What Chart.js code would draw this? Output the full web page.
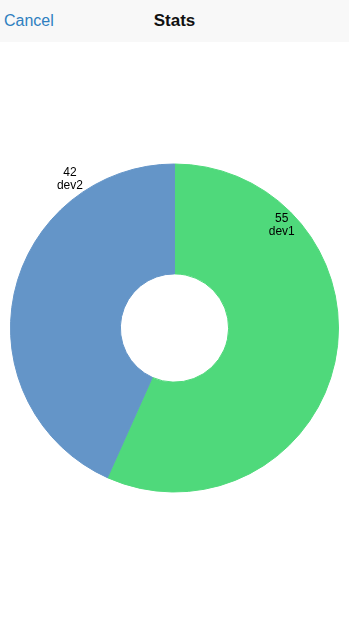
<!DOCTYPE html>
<html>
<head>
<meta charset="utf-8">
<script src="https://cdn.jsdelivr.net/npm/chart.js@4.4.0/dist/chart.umd.min.js"></script>
<style>
  html, body { margin: 0; padding: 0; background: #fff; width: 349px; height: 620px; overflow: hidden; }
  #bar {
    position: relative; height: 42px; background: #f8f8f8;
    font-family: "Liberation Sans", Arial, sans-serif;
  }
  #cancel { position: absolute; left: 4px; top: 12px; font-size: 16px; color: #2f7fc0; }
  #title { position: absolute; left: 0; right: 0; top: 11px; text-align: center; font-size: 17px; font-weight: bold; color: #111; }
  #wrap { position: relative; width: 349px; height: 578px; }
</style>
</head>
<body>
<div id="bar"><span id="cancel">Cancel</span><div id="title">Stats</div></div>
<div id="wrap"><canvas id="chart-pie"></canvas></div>

<script>
var names = ["dev1", "dev2"];
var counts = [55, 42];
var colors = ["#4fd97b", "#6495c8"];

// where each label sits: fraction along its slice, and distance as a share of the outer radius
var labelAt = [0.225, 0.775];
var labelDist = [0.91, 1.11];

var sliceLabels = {
  id: "sliceLabels",
  afterDatasetsDraw: function (chart) {
    var ctx = chart.ctx;
    var meta = chart.getDatasetMeta(0);
    ctx.save();
    ctx.font = "12px 'Liberation Sans', Arial, sans-serif";
    ctx.fillStyle = "#000";
    ctx.textAlign = "center";
    ctx.textBaseline = "middle";
    meta.data.forEach(function (arc, i) {
      var p = arc.getProps(["x", "y", "startAngle", "endAngle", "outerRadius"], true);
      var a = p.startAngle + (p.endAngle - p.startAngle) * labelAt[i];
      var r = p.outerRadius * labelDist[i];
      var x = p.x + Math.cos(a) * r;
      var y = p.y + Math.sin(a) * r;
      ctx.fillText(String(counts[i]), x, y - 6);
      ctx.fillText(names[i], x, y + 7);
    });
    ctx.restore();
  }
};

var ctx = document.getElementById("chart-pie").getContext("2d");
new Chart(ctx, {
  type: "doughnut",
  data: {
    labels: names,
    datasets: [
      {
        data: counts,
        backgroundColor: colors,
        borderColor: colors,
        borderWidth: 1,
        hoverOffset: 0,
      },
    ],
  },
  options: {
    responsive: true,
    maintainAspectRatio: false,
    animation: false,
    cutout: "33%",
    layout: {
      padding: { left: 10, right: 10, top: 0, bottom: 6 },
    },
    plugins: {
      legend: { display: false },
      tooltip: { enabled: false },
    },
  },
  plugins: [sliceLabels],
});
</script>
</body>
</html>
